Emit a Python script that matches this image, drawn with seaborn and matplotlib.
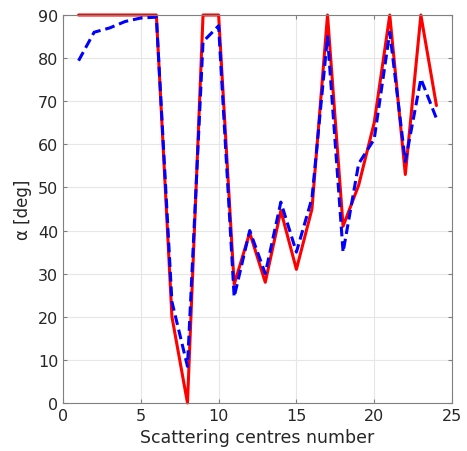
import matplotlib
matplotlib.use("Agg")
import matplotlib.pyplot as plt
import numpy as np
import pandas as pd
import seaborn as sns

centres = np.arange(1, 25)
alpha_red = [90, 90, 90, 90, 90, 90, 20, 0, 90, 90, 27.5, 39.5, 28, 44.6, 31, 45,
             90, 41, 50.5, 65, 90, 53, 90, 69]
alpha_blue = [79.4, 86, 87, 88.5, 89.3, 89.5, 23.5, 8.5, 83.8, 87.5, 24.6, 40, 30, 46.6, 35, 47.5,
              85, 35, 55.5, 61.2, 86, 56, 75.2, 66]

df = pd.DataFrame({"n": centres, "red": alpha_red, "blue": alpha_blue})

sns.set_style("whitegrid")
plt.rcParams['font.family'] = ['DejaVu Sans']

fig = plt.figure(figsize=(4.67, 4.52), dpi=100)
ax = fig.add_axes([63 / 467, 48 / 452, 389 / 467, 388 / 452])

sns.lineplot(data=df, x="n", y="red", color="#ff0000", linewidth=2.2, ax=ax)
sns.lineplot(data=df, x="n", y="blue", color="#0000ff", linewidth=2.2, linestyle="--",
             dashes=False, ax=ax)
ax.lines[-1].set_dashes([3.2, 1.6])
for ln in ax.lines:
    ln.set_clip_on(False)

ax.set_xlim(0, 25)
ax.set_ylim(0, 90)
ax.set_xticks(np.arange(0, 26, 5))
ax.set_yticks(np.arange(0, 91, 10))
ax.grid(True, color="#e6e6e6", linewidth=0.8)
for s in ax.spines.values():
    s.set_color("#808080")
    s.set_linewidth(0.8)
    s.set_visible(True)
ax.tick_params(direction="in", length=3, color="#808080", labelsize=11.5,
               labelcolor="#262626", bottom=True, left=True, right=True, top=True,
               labelright=False, labeltop=False)
ax.set_xlabel("Scattering centres number", fontsize=12.5, color="#262626")
ax.set_ylabel("α [deg]", fontsize=12, color="#262626")

fig.savefig("out.png", dpi=100)
